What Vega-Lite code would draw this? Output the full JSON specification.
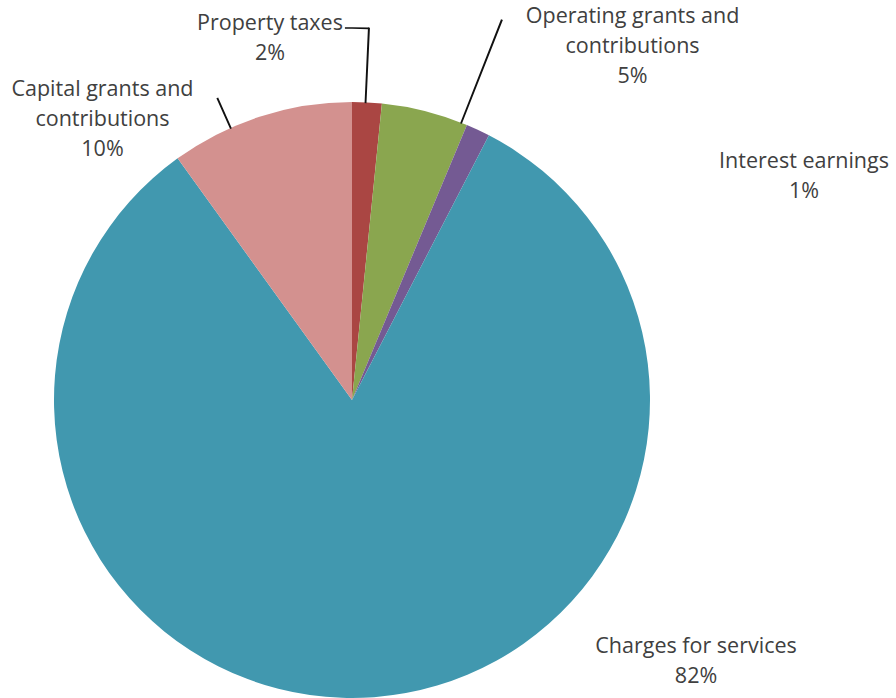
{
  "$schema": "https://vega.github.io/schema/vega-lite/v6.json",
  "width": 704,
  "height": 596,
  "autosize": {"type": "none"},
  "padding": {"left": 0, "top": 102, "right": 192, "bottom": 0},
  "background": "white",
  "config": {"view": {"stroke": null}},
  "data": {
    "values": [
      {"category": "Property taxes", "label": "Property taxes", "value": 1.6, "order": 1},
      {"category": "Operating grants and contributions", "label": "Operating grants and\ncontributions", "value": 4.7, "order": 2},
      {"category": "Interest earnings", "label": "Interest earnings", "value": 1.3, "order": 3},
      {"category": "Charges for services", "label": "Charges for services", "value": 82.45, "order": 4},
      {"category": "Capital grants and contributions", "label": "Capital grants and\ncontributions", "value": 9.95, "order": 5}
    ]
  },
  "transform": [
    {"stack": "value", "groupby": [], "sort": [{"field": "order", "order": "ascending"}], "as": ["v0", "v1"]},
    {"calculate": "datum.label + '\\n' + format(datum.value, '.0f') + '%'", "as": "text"}
  ],
  "layer": [
    {
      "mark": {"type": "arc", "radius": 298},
      "encoding": {
        "theta": {"field": "v0", "type": "quantitative", "scale": {"domain": [0, 100]}},
        "theta2": {"field": "v1"},
        "color": {
          "field": "category",
          "type": "nominal",
          "scale": {
            "domain": ["Property taxes", "Operating grants and contributions", "Interest earnings", "Charges for services", "Capital grants and contributions"],
            "range": ["#AA4643", "#8AA64F", "#745A93", "#4198AF", "#D3918F"]
          },
          "legend": null
        }
      }
    },
    {
      "transform": [{"filter": "datum.order == 1"}],
      "mark": {"type": "arc", "radius": 372, "radius2": 298, "thetaOffset": 0.045, "theta2Offset": 0.046, "filled": false, "stroke": "#111111", "strokeWidth": 1.6},
      "encoding": {"theta": {"field": "v0", "type": "quantitative"}, "theta2": {"field": "v0"}}
    },
    {
      "transform": [{"filter": "datum.order == 1"}],
      "mark": {"type": "arc", "radius": 372, "radius2": 372, "thetaOffset": -0.019, "theta2Offset": 0.045, "filled": false, "stroke": "#111111", "strokeWidth": 1.6},
      "encoding": {"theta": {"field": "v0", "type": "quantitative"}, "theta2": {"field": "v0"}}
    },
    {
      "transform": [{"filter": "datum.order == 2"}],
      "mark": {"type": "arc", "radius": 408, "radius2": 298, "thetaOffset": 0.2745, "theta2Offset": 0.2755, "filled": false, "stroke": "#111111", "strokeWidth": 1.6},
      "encoding": {"theta": {"field": "v0", "type": "quantitative"}, "theta2": {"field": "v0"}}
    },
    {
      "transform": [{"filter": "datum.order == 5"}],
      "mark": {"type": "arc", "radius": 330, "radius2": 298, "thetaOffset": 0.2052, "theta2Offset": 0.2062, "filled": false, "stroke": "#111111", "strokeWidth": 1.6},
      "encoding": {"theta": {"field": "v0", "type": "quantitative"}, "theta2": {"field": "v0"}}
    },
    {
      "transform": [{"filter": "datum.order == 1"}],
      "mark": {"type": "text", "radius": 385.3, "thetaOffset": -0.2145, "align": "center", "baseline": "middle", "lineBreak": "\n", "lineHeight": 30, "font": "Open Sans", "fontSize": 21.5, "fill": "#404040"},
      "encoding": {"theta": {"field": "v0", "type": "quantitative", "stack": null}, "text": {"field": "text"}}
    },
    {
      "transform": [{"filter": "datum.order == 2"}],
      "mark": {"type": "text", "radius": 474.7, "thetaOffset": 0.5318, "align": "center", "baseline": "middle", "lineBreak": "\n", "lineHeight": 30, "font": "Open Sans", "fontSize": 21.5, "fill": "#404040"},
      "encoding": {"theta": {"field": "v0", "type": "quantitative", "stack": null}, "text": {"field": "text"}}
    },
    {
      "transform": [{"filter": "datum.order == 3"}],
      "mark": {"type": "text", "radius": 510.8, "thetaOffset": 0.6905, "align": "center", "baseline": "middle", "lineBreak": "\n", "lineHeight": 30, "font": "Open Sans", "fontSize": 21.5, "fill": "#404040"},
      "encoding": {"theta": {"field": "v0", "type": "quantitative", "stack": null}, "text": {"field": "text"}}
    },
    {
      "transform": [{"filter": "datum.order == 4"}],
      "mark": {"type": "text", "radius": 423.5, "thetaOffset": 1.7159, "align": "center", "baseline": "middle", "lineBreak": "\n", "lineHeight": 30, "font": "Open Sans", "fontSize": 21.5, "fill": "#404040"},
      "encoding": {"theta": {"field": "v0", "type": "quantitative", "stack": null}, "text": {"field": "text"}}
    },
    {
      "transform": [{"filter": "datum.order == 5"}],
      "mark": {"type": "text", "radius": 397.9, "thetaOffset": -0.0526, "align": "center", "baseline": "middle", "lineBreak": "\n", "lineHeight": 30, "font": "Open Sans", "fontSize": 21.5, "fill": "#404040"},
      "encoding": {"theta": {"field": "v0", "type": "quantitative", "stack": null}, "text": {"field": "text"}}
    }
  ]
}
